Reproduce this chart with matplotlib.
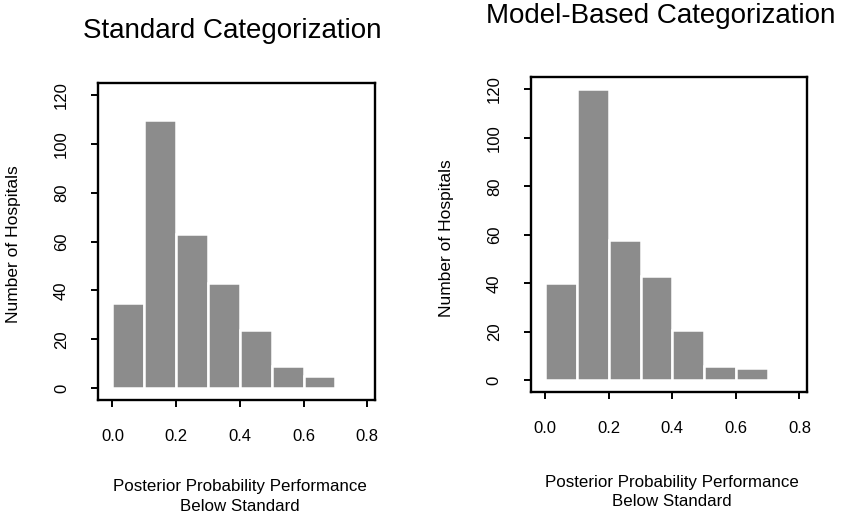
import matplotlib
matplotlib.use("Agg")
import matplotlib.pyplot as plt
import numpy as np

plt.rcParams['font.family'] = ['Liberation Sans', 'DejaVu Sans']

# histogram bins (posterior probability of below-standard performance)
bin_edges = [0.0, 0.1, 0.2, 0.3, 0.4, 0.5, 0.6, 0.7]
standard_counts = [35, 110, 63, 43, 24, 9, 5]
model_counts = [40, 120, 58, 43, 21, 6, 5]

titles = ["Standard Categorization", "Model-Based Categorization"]
xticks = [0.0, 0.2, 0.4, 0.6, 0.8]
yticks = [0, 20, 40, 60, 80, 100, 120]

fig = plt.figure(figsize=(8.53, 5.18), dpi=100)
fig.patch.set_facecolor('white')

# axes rectangles [left, bottom, width, height]
rects = [[0.115, 0.228, 0.325, 0.612],
         [0.6225, 0.243, 0.324, 0.608]]
title_pos = [(0.272, 0.94), (0.774, 0.97)]
xlabel_y = [-0.25, -0.262]

for rect, counts, title, tpos, ly in zip(rects, [standard_counts, model_counts],
                                         titles, title_pos, xlabel_y):
    ax = fig.add_axes(rect)
    lefts = np.array(bin_edges[:-1])
    widths = np.diff(bin_edges)
    ax.bar(lefts, counts, width=widths, align='edge', color='#8c8c8c',
           edgecolor='white', linewidth=1.8)

    ax.set_xlim(-0.045, 0.825)
    ax.set_ylim(-4.8, 125)
    ax.set_xticks(xticks)
    ax.set_xticklabels([f"{t:.1f}" for t in xticks])
    ax.set_yticks(yticks)
    ax.tick_params(axis='both', direction='out', length=5, width=1.4,
                   labelsize=12, pad=16)
    ax.tick_params(axis='y', labelrotation=90)
    for lab in ax.get_yticklabels():
        lab.set_va('center')
    for sp in ax.spines.values():
        sp.set_linewidth(1.7)
        sp.set_color('black')

    ax.set_ylabel("Number of Hospitals", fontsize=12.5)
    ax.yaxis.set_label_coords(-0.277, 0.49)
    ax.set_xlabel("Posterior Probability Performance\nBelow Standard",
                  fontsize=12.2, linespacing=1.4)
    ax.xaxis.set_label_coords(0.51, ly)

    fig.text(tpos[0], tpos[1], title, fontsize=20, ha='center', va='center')

fig.savefig("out.png", dpi=100)
